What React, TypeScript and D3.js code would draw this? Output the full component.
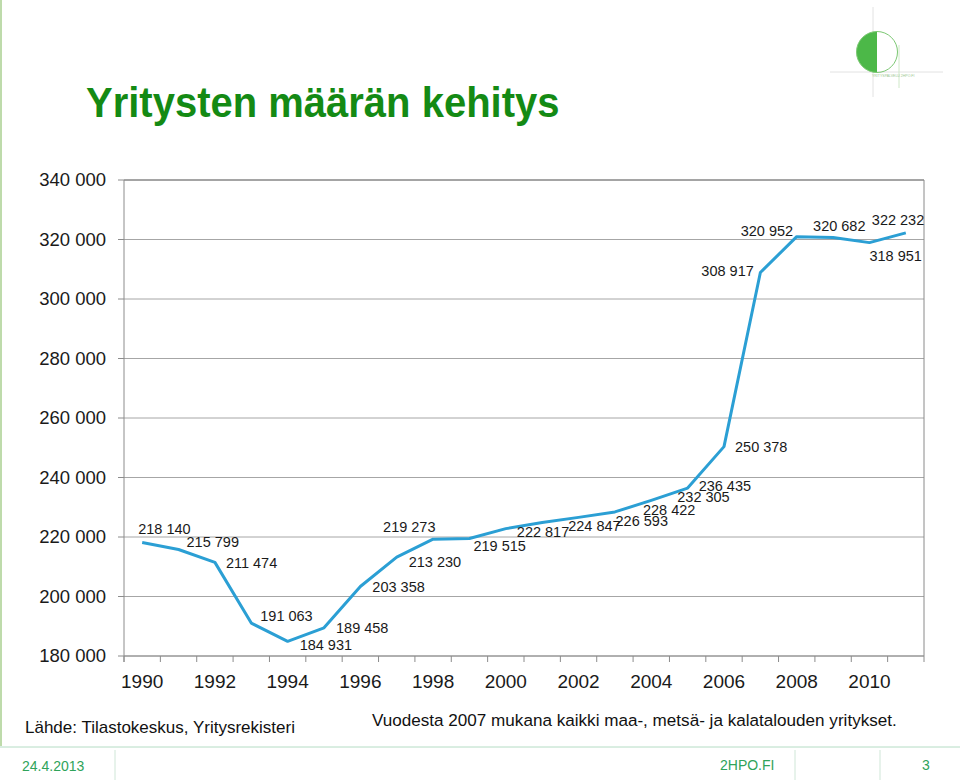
import React from "react";
import * as d3 from "d3";

const years = [1990,1991,1992,1993,1994,1995,1996,1997,1998,1999,2000,2001,2002,2003,2004,2005,2006,2007,2008,2009,2010,2011];
const companies = [218140,215799,211474,191063,184931,189458,203358,213230,219273,219515,222817,224847,226593,228422,232305,236435,250378,308917,320952,320682,318951,322232];
const yTicks = [180000,200000,220000,240000,260000,280000,300000,320000,340000];
const xTickLabels = [1990,1992,1994,1996,1998,2000,2002,2004,2006,2008,2010];

// label placement offsets (px) relative to each point: [dx to label start, dy to label middle]
const labelOffsets: [number, number][] = [
  [-4,-14],[8,-8],[11,1],[9,-7],[12,4],[12,0],[12,0],[12,5],[-50,-12],[4,7],
  [11,3],[26,3],[37,4],[28,-2],[26,-3],[11,-2],[11,0],[-59,-2],[-56,-6],[-20,-12],[0,13],[-34,-13]
];

const W = 960, H = 780;
const left = 124, right = 924, top = 180, bottom = 656;
const FONT = "Liberation Sans, Arial, sans-serif";

function fmt(v: number) {
  const s = String(v);
  return s.slice(0, s.length - 3) + " " + s.slice(-3);
}

export default function App() {
  const x = d3.scaleBand<number>().domain(years).range([left, right]).padding(0);
  const y = d3.scaleLinear().domain([180000, 340000]).range([bottom, top]);
  const cx = (yr: number) => (x(yr) as number) + x.bandwidth() / 2;
  const line = d3.line<number>().x((_, i) => cx(years[i])).y((d) => y(d));
  const boundaries = d3.range(years.length + 1).map((i) => left + i * x.bandwidth());

  return (
    <svg width={W} height={H} style={{ position: "absolute", left: 0, top: 0, background: "#fff" }} fontFamily={FONT}>
      <rect x={0} y={0} width={W} height={H} fill="#fff" />
      {/* left decorative line */}
      <line x1={1} x2={1} y1={0} y2={746} stroke="#a9cf8f" strokeWidth={1.5} />
      {/* logo */}
      <g>
        <line x1={873} x2={873} y1={7} y2={97} stroke="#e2e2e2" strokeWidth={1} />
        <line x1={830} x2={943} y1={72} y2={72} stroke="#e2e2e2" strokeWidth={1} />
        <line x1={899} x2={899} y1={45} y2={88} stroke="#cfe8c8" strokeWidth={1} />
        <path d="M877,31.5 A20.5,20.5 0 0 0 877,72.5 Z" fill="#4cb848" />
        <circle cx={877} cy={52} r={20.5} fill="none" stroke="#7cc873" strokeWidth={1} />
        <text x={872} y={77} fontSize={3.5} fill="#9ac790">YRITYSPALVELU 2HPO.FI</text>
      </g>
      {/* title */}
      <text transform="translate(86,117) scale(1,1.08)" fontSize={40} fontWeight="bold" fill="#148a14">Yritysten määrän kehitys</text>

      {/* gridlines */}
      {yTicks.map((t) => (
        <line key={t} x1={left} x2={right} y1={y(t)} y2={y(t)} stroke={t === 340000 ? "#4a4a4a" : "#a6a6a6"} strokeWidth={1} />
      ))}
      <line x1={right} x2={right} y1={top} y2={bottom} stroke="#8a8a8a" strokeWidth={1} />
      {/* y axis */}
      <line x1={left} x2={left} y1={top} y2={bottom + 6} stroke="#8c8c8c" strokeWidth={1} />
      {yTicks.map((t) => (
        <g key={"yt" + t}>
          <line x1={left - 6} x2={left} y1={y(t)} y2={y(t)} stroke="#8c8c8c" />
          <text x={106} y={y(t)} dy="0.35em" textAnchor="end" fontSize={18.5} fill="#1a1a1a">{fmt(t)}</text>
        </g>
      ))}
      {/* x axis */}
      <line x1={left} x2={right} y1={bottom} y2={bottom} stroke="#8c8c8c" />
      {boundaries.map((b, i) => (
        <line key={"xb" + i} x1={b} x2={b} y1={bottom} y2={bottom + 6} stroke="#8c8c8c" />
      ))}
      {xTickLabels.map((yr) => (
        <text key={"xl" + yr} x={cx(yr)} y={681} dy="0.35em" textAnchor="middle" fontSize={19} fill="#1a1a1a">{yr}</text>
      ))}

      {/* line */}
      <path d={line(companies) || ""} fill="none" stroke="#2b9fd4" strokeWidth={3} strokeLinejoin="round" />

      {/* data labels */}
      {companies.map((v, i) => (
        <text key={"dl" + i} x={cx(years[i]) + labelOffsets[i][0]} y={y(v) + labelOffsets[i][1]} dy="0.35em" fontSize={14.5} fill="#1a1a1a">{fmt(v)}</text>
      ))}

      {/* notes */}
      <text x={25} y={727} dy="0.35em" fontSize={17} fill="#111">Lähde: Tilastokeskus, Yritysrekisteri</text>
      <text x={372} y={720} dy="0.35em" fontSize={17.1} fill="#111">Vuodesta 2007 mukana kaikki maa-, metsä- ja kalatalouden yritykset.</text>

      {/* footer */}
      <line x1={0} x2={W} y1={747} y2={747} stroke="#b4dcc4" strokeWidth={1} />
      {[115, 795, 880].map((sx) => (
        <line key={"sep" + sx} x1={sx} x2={sx} y1={750} y2={780} stroke="#cfe6d7" strokeWidth={1} />
      ))}
      <text x={22} y={766} dy="0.35em" fontSize={14} fill="#2fa35a">24.4.2013</text>
      <text x={720} y={765} dy="0.35em" fontSize={14} fill="#2fa35a">2HPO.FI</text>
      <text x={922} y={765} dy="0.35em" fontSize={14} fill="#2fa35a">3</text>
    </svg>
  );
}
